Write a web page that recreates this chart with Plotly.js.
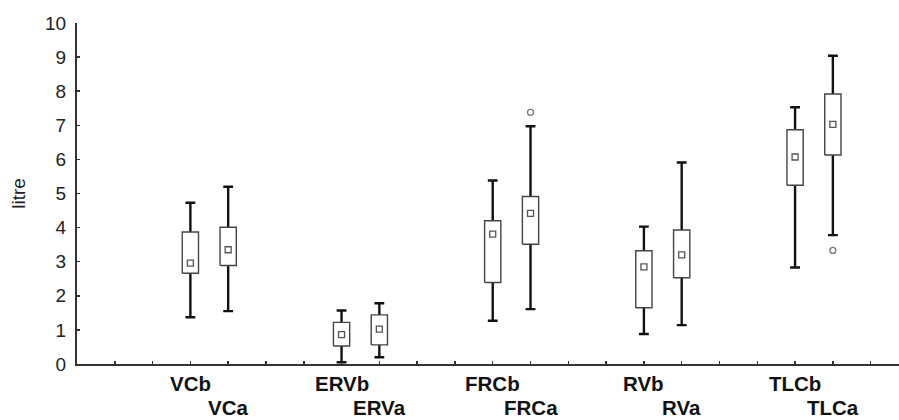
<!DOCTYPE html>
<html>
<head>
<meta charset="utf-8">
<script src="https://cdn.plot.ly/plotly-3.0.1.min.js"></script>
<style>html,body{margin:0;padding:0;background:#fff}#chart{width:899px;height:420px}</style>
</head>
<body>
<div id="chart"></div>
<script>
// Box labels (b = before, a = after) in drawing order
const labels = ["VCb","VCa","ERVb","ERVa","FRCb","FRCa","RVb","RVa","TLCb","TLCa"];
// Slot on the numeric x axis for each box
const slots = [3,4,7,8,11,12,15,16,19,20];
// Statistics (litre)
const whiskerLow  = [1.37,1.55,0.05,0.20,1.27,1.61,0.88,1.14,2.83,3.78];
const q1          = [2.66,2.89,0.53,0.56,2.39,3.51,1.65,2.53,5.24,6.13];
const median      = [2.96,3.35,0.86,1.02,3.81,4.42,2.85,3.20,6.07,7.03];
const q3          = [3.87,4.01,1.22,1.44,4.20,4.91,3.32,3.93,6.87,7.92];
const whiskerHigh = [4.73,5.20,1.57,1.78,5.38,6.97,4.03,5.91,7.53,9.04];
// Outliers
const outlierSlot  = [12,20];
const outlierValue = [7.38,3.33];

const BOX_HALF = 0.215;

// Whiskers (min–max) drawn thick; their degenerate box sits at the median, hidden by the box on top
const whiskers = {
  type:'box', x:slots, q1:median, median:median, q3:median,
  lowerfence:whiskerLow, upperfence:whiskerHigh,
  width:0.26, whiskerwidth:1, boxpoints:false,
  line:{color:'#111', width:2.4}, fillcolor:'#fff',
  hoverinfo:'skip', showlegend:false
};
// Interquartile boxes as closed outlines (no median line)
const bx = [], by = [];
slots.forEach((s,i)=>{
  bx.push(s-BOX_HALF, s+BOX_HALF, s+BOX_HALF, s-BOX_HALF, s-BOX_HALF, null);
  by.push(q1[i], q1[i], q3[i], q3[i], q1[i], null);
});
const boxes = {
  type:'scatter', mode:'lines', x:bx, y:by, fill:'toself', fillcolor:'#fff',
  line:{color:'#444', width:1.4}, connectgaps:false,
  hoverinfo:'skip', showlegend:false
};
const medians = {
  type:'scatter', mode:'markers', x:slots, y:median,
  marker:{symbol:'square-open', size:6, color:'#555', line:{width:1.3, color:'#555'}},
  hoverinfo:'skip', showlegend:false
};
const outliers = {
  type:'scatter', mode:'markers', x:outlierSlot, y:outlierValue,
  marker:{symbol:'circle-open', size:6, color:'#777', line:{width:1.3, color:'#777'}},
  hoverinfo:'skip', showlegend:false
};

const annotations = labels.map((t,i)=>({
  x:slots[i], xref:'x', y:(i%2===0)?-0.056:-0.128, yref:'paper',
  xanchor:'center', yanchor:'middle', showarrow:false, text:t,
  font:{family:'Liberation Sans, Arial, sans-serif', size:20.5, weight:'bold', color:'#111'}
}));

const layout = {
  width:899, height:420,
  margin:{l:77, r:0, t:23, b:56},
  paper_bgcolor:'#fff', plot_bgcolor:'#fff',
  boxmode:'overlay',
  showlegend:false,
  font:{family:'Liberation Sans, Arial, sans-serif', color:'#222'},
  xaxis:{
    range:[0,21.75], showline:true, linecolor:'#333', linewidth:2,
    ticks:'inside', ticklen:3, tickwidth:1.5, tickcolor:'#333',
    tickmode:'linear', tick0:1, dtick:1,
    showticklabels:false, showgrid:false, zeroline:false
  },
  yaxis:{
    range:[0,10], showline:true, linecolor:'#333', linewidth:2,
    ticks:'inside', ticklen:3, tickwidth:1.5, tickcolor:'#333',
    tickmode:'linear', tick0:0, dtick:1,
    tickfont:{size:19, color:'#222'}, ticklabelstandoff:5,
    showgrid:false, zeroline:false,
    title:{text:'litre', font:{size:19, color:'#222'}, standoff:14}
  },
  annotations:annotations
};

Plotly.newPlot('chart',[whiskers, boxes, medians, outliers], layout, {staticPlot:true});
</script>
</body>
</html>
